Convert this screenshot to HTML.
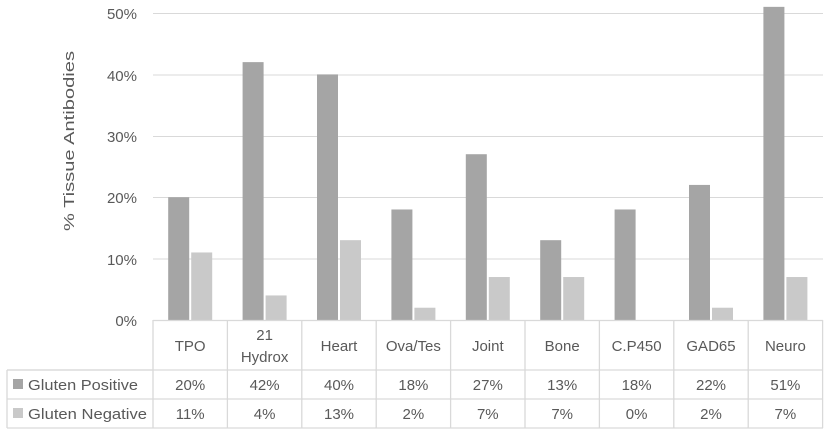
<!DOCTYPE html><html><head><style>body{margin:0;background:#fff}svg{display:block}text{font-family:"Liberation Sans",sans-serif;fill:#595959;font-size:15px}</style></head><body>
<svg width="829" height="432" xmlns="http://www.w3.org/2000/svg">
<g stroke="#d9d9d9" stroke-width="1">
<line x1="153" x2="823" y1="13.5" y2="13.5"/><line x1="153" x2="823" y1="75" y2="75"/><line x1="153" x2="823" y1="136.5" y2="136.5"/><line x1="153" x2="823" y1="197.5" y2="197.5"/><line x1="153" x2="823" y1="259" y2="259"/>
</g>
<g id="bars"></g>
<g stroke="#d9d9d9" stroke-width="1.3" fill="none">
<line x1="153" x2="823" y1="320.5" y2="320.5"/>
<line x1="7" x2="823" y1="370" y2="370"/><line x1="7" x2="823" y1="399" y2="399"/><line x1="7" x2="823" y1="428" y2="428"/>
<line x1="7" x2="7" y1="370" y2="428"/>
</g>
<g id="vl" stroke="#d9d9d9" stroke-width="1.3"></g>
<g text-anchor="end"><text x="137" y="19">50%</text><text x="137" y="81">40%</text><text x="137" y="142">30%</text><text x="137" y="203">20%</text><text x="137" y="265">10%</text><text x="137" y="326">0%</text></g>
<text transform="translate(74,141) rotate(-90)" text-anchor="middle" font-size="16" textLength="180" lengthAdjust="spacingAndGlyphs">% Tissue Antibodies</text>
<rect x="13" y="379" width="10" height="10" fill="#a5a5a5"/><rect x="13" y="408" width="10" height="10" fill="#c9c9c9"/>
<text x="28" y="390" textLength="110" lengthAdjust="spacingAndGlyphs" font-size="16">Gluten Positive</text><text x="28" y="419" textLength="119" lengthAdjust="spacingAndGlyphs" font-size="16">Gluten Negative</text>
<g id="tx" text-anchor="middle" font-size="16"></g>
</svg>
<script>
var c=["TPO","21|Hydrox","Heart","Ova/Tes","Joint","Bone","C.P450","GAD65","Neuro"],p=[20,42,40,18,27,13,18,22,51],n=[11,4,13,2,7,7,0,2,7];
var ns="http://www.w3.org/2000/svg",w=74.4,x0=153;function el(t,a,par,txt){var e=document.createElementNS(ns,t);for(var k in a)e.setAttribute(k,a[k]);if(txt!=null)e.textContent=txt;document.getElementById(par).appendChild(e);}
for(var i=0;i<=9;i++){var x=x0+i*w;el("line",{x1:x,x2:x,y1:320,y2:428},"vl");}
el("line",{x1:7,x2:153,y1:370,y2:370},"vl");
for(var i=0;i<9;i++){var cx=x0+w*(i+.5);
el("rect",{x:cx-22,y:320-p[i]*6.14,width:21,height:p[i]*6.14,fill:"#a5a5a5"},"bars");
el("rect",{x:cx+1,y:320-n[i]*6.14,width:21,height:n[i]*6.14,fill:"#c9c9c9"},"bars");
var l=c[i].split("|");if(l.length==1)el("text",{x:cx,y:351},"tx",l[0]);else{el("text",{x:cx,y:340},"tx",l[0]);el("text",{x:cx,y:362},"tx",l[1]);}
el("text",{x:cx,y:390},"tx",p[i]+"%");el("text",{x:cx,y:419},"tx",n[i]+"%");}
</script></body></html>
